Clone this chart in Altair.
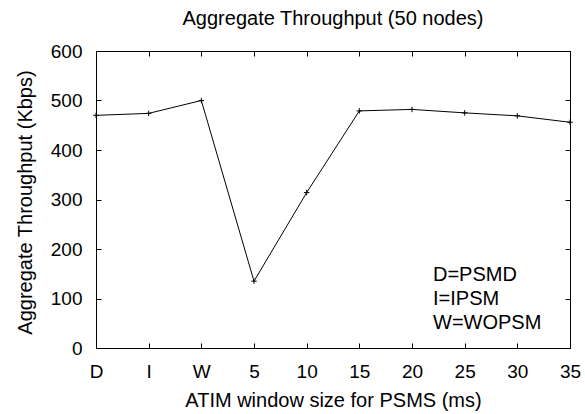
import altair as alt
import pandas as pd

# ---- data ----
categories = ["D", "I", "W", "5", "10", "15", "20", "25", "30", "35"]
throughput = [470, 474, 500, 135, 314, 479, 482, 475, 469, 456]
y_ticks = [0, 100, 200, 300, 400, 500, 600]
key_lines = ["D=PSMD", "I=IPSM", "W=WOPSM"]

df = pd.DataFrame({"window": categories, "kbps": throughput})

W, H = 474, 297
FONT = "Liberation Sans"
LABEL_SIZE = 19
TITLE_SIZE = 20

xscale = alt.Scale(type="point", padding=0, domain=categories)
yscale = alt.Scale(domain=[0, 600], nice=False, zero=True)


def encode(chart, xaxis, yaxis):
    return chart.encode(
        x=alt.X("window:N", sort=categories, scale=xscale, axis=xaxis),
        y=alt.Y("kbps:Q", scale=yscale, axis=yaxis),
    )


# main labelled axes (no ticks)
x_main = alt.Axis(
    orient="bottom", labelAngle=0, ticks=False, tickSize=0, domain=False, grid=False,
    labelFontSize=LABEL_SIZE, labelFont=FONT, labelColor="black",
    labelPadding=29, labelBaseline="alphabetic",
    title="ATIM window size for PSMS (ms)", titleFontSize=TITLE_SIZE, titleFont=FONT,
    titleFontWeight="normal", titleColor="black",
    titleX=W / 2, titleY=58, titleBaseline="alphabetic", titleAlign="center",
)
y_main = alt.Axis(
    orient="left", values=y_ticks, ticks=False, tickSize=0, domain=False, grid=False,
    labelFontSize=LABEL_SIZE, labelFont=FONT, labelColor="black",
    labelPadding=14, labelBaseline="middle",
    title="Aggregate Throughput (Kbps)", titleFontSize=TITLE_SIZE, titleFont=FONT,
    titleFontWeight="normal", titleColor="black", titleAngle=270,
    titleX=-65, titleY=151, titleBaseline="alphabetic", titleAlign="center",
)


def tick_axis(orient, offset, values=None):
    kw = dict(orient=orient, offset=offset, labels=False, domain=False, grid=False,
              ticks=True, tickSize=5, tickColor="black", tickWidth=1, title=None)
    if values is not None:
        kw["values"] = values
    return alt.Axis(**kw)


base = alt.Chart(df)

line = encode(base.mark_line(color="black", strokeWidth=1), x_main, y_main)

points = encode(
    base.mark_point(shape="M-1,0L1,0M0,-1L0,1", size=30, filled=False,
                    color="black", strokeWidth=1, opacity=1),
    None, None,
)

# inward ticks: bottom + left edges
ticks_a = encode(
    base.mark_line(opacity=0),
    tick_axis("top", -H), tick_axis("right", -W, y_ticks),
)
# inward ticks: top + right edges
ticks_b = encode(
    base.mark_line(opacity=0),
    tick_axis("bottom", -H), tick_axis("left", -W, y_ticks),
)

key = alt.Chart(pd.DataFrame({"k": [0]})).mark_text(
    text=key_lines, align="left", baseline="alphabetic", lineHeight=24,
    font=FONT, fontSize=TITLE_SIZE, color="black",
).encode(x=alt.value(337), y=alt.value(230))

chart = (
    alt.layer(line, points, ticks_a, ticks_b, key)
    .resolve_axis(x="independent", y="independent")
    .properties(
        width=W, height=H,
        autosize=alt.AutoSizeParams(type="none"),
        padding={"left": 96, "top": 51, "right": 15, "bottom": 66},
        title=alt.TitleParams(
            "Aggregate Throughput (50 nodes)", fontSize=TITLE_SIZE, font=FONT,
            fontWeight="normal", color="black", anchor="middle", frame="group",
            baseline="alphabetic", offset=-3,
        ),
    )
    .configure(font=FONT, background="white")
    .configure_view(stroke="black", strokeWidth=1)
)

chart.save("out.html", embed_options={"renderer": "svg", "actions": False})
